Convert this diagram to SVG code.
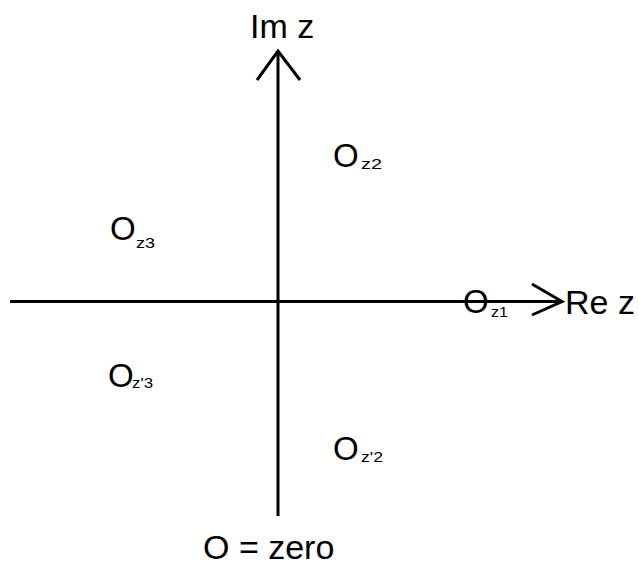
<svg xmlns="http://www.w3.org/2000/svg" width="639" height="565" viewBox="0 0 639 565">
<style>
.ax{stroke:#000;stroke-width:3;fill:none}
.t{font-family:"Liberation Sans",Arial,sans-serif;fill:#000}
.big{font-size:33px}
.lab{font-size:34px}
.sub{font-size:15px}
</style>
<rect width="639" height="565" fill="#fff"/>
<g id="connectors">
<line class="ax" x1="10" y1="301.5" x2="562" y2="301.5"/>
<polyline class="ax" points="532,284 562,301.5 532,315"/>
<line class="ax" x1="278" y1="516" x2="278" y2="51"/>
<polyline class="ax" points="257,80 278,51 300,80"/>
</g>
<g id="axis-im"><text class="t lab" x="250" y="38">Im z</text></g>
<g id="axis-re"><text class="t lab" x="565" y="314">Re z</text></g>
<g id="z1"><text class="t big" x="463" y="313">O</text><text class="t sub" x="491" y="317" textLength="17" lengthAdjust="spacingAndGlyphs">z1</text></g>
<g id="z2"><text class="t big" x="333" y="167">O</text><text class="t sub" x="361" y="169" textLength="21" lengthAdjust="spacingAndGlyphs">z2</text></g>
<g id="z3"><text class="t big" x="110" y="240">O</text><text class="t sub" x="136" y="248" textLength="19" lengthAdjust="spacingAndGlyphs">z3</text></g>
<g id="zp3"><text class="t big" x="108" y="387">O</text><text class="t sub" x="132" y="388" textLength="21" lengthAdjust="spacingAndGlyphs">z'3</text></g>
<g id="zp2"><text class="t big" x="333" y="460">O</text><text class="t sub" x="361" y="462" textLength="22" lengthAdjust="spacingAndGlyphs">z'2</text></g>
<g id="legend"><text class="t lab" x="203" y="559">O = zero</text></g>
</svg>
